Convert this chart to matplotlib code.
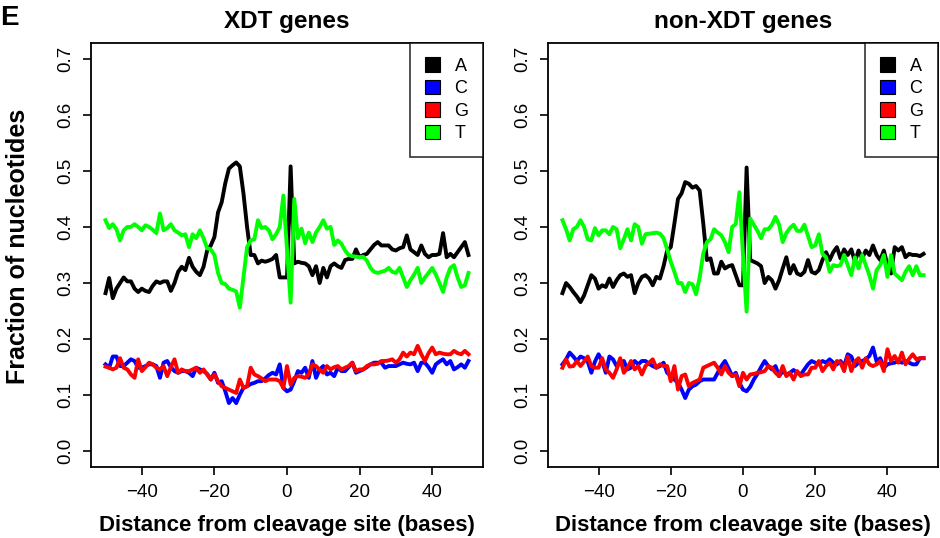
import numpy as np
import matplotlib
matplotlib.use("Agg")
import matplotlib.pyplot as plt
from matplotlib.patches import Patch

plt.rcParams['font.family'] = ['Liberation Sans', 'DejaVu Sans']

positions = np.arange(-50, 51)
nucleotides = ["A", "C", "G", "T"]
colors = ["#000000", "#0000ff", "#ff0000", "#00ff00"]
panel_titles = ["XDT genes", "non-XDT genes"]

# XDT genes
xdt_A = [0.282, 0.309, 0.273, 0.290, 0.300, 0.310, 0.303, 0.303, 0.290, 0.284,
         0.290, 0.286, 0.284, 0.295, 0.303, 0.300, 0.303, 0.303, 0.286, 0.300,
         0.320, 0.329, 0.323, 0.345, 0.329, 0.320, 0.314, 0.329, 0.358, 0.367,
         0.382, 0.426, 0.444, 0.478, 0.504, 0.510, 0.515, 0.508, 0.460, 0.400,
         0.350, 0.350, 0.335, 0.340, 0.338, 0.340, 0.343, 0.350, 0.310, 0.310,
         0.310, 0.508, 0.335, 0.338, 0.336, 0.335, 0.330, 0.314, 0.330, 0.300,
         0.327, 0.310, 0.330, 0.335, 0.330, 0.327, 0.341, 0.343, 0.343, 0.360,
         0.346, 0.350, 0.352, 0.360, 0.368, 0.373, 0.367, 0.367, 0.367, 0.360,
         0.358, 0.362, 0.364, 0.385, 0.360, 0.355, 0.350, 0.367, 0.352, 0.346,
         0.350, 0.350, 0.352, 0.389, 0.346, 0.352, 0.346, 0.355, 0.364, 0.373,
         0.350]
xdt_C = [0.155, 0.149, 0.169, 0.169, 0.152, 0.152, 0.158, 0.164, 0.161, 0.149,
         0.149, 0.152, 0.155, 0.155, 0.152, 0.131, 0.158, 0.161, 0.150, 0.143,
         0.140, 0.143, 0.143, 0.140, 0.134, 0.149, 0.146, 0.143, 0.138, 0.128,
         0.140, 0.122, 0.125, 0.107, 0.086, 0.095, 0.086, 0.101, 0.113, 0.116,
         0.120, 0.122, 0.125, 0.125, 0.130, 0.136, 0.140, 0.137, 0.155, 0.113,
         0.107, 0.110, 0.125, 0.143, 0.140, 0.149, 0.131, 0.161, 0.131, 0.146,
         0.152, 0.137, 0.140, 0.134, 0.149, 0.143, 0.143, 0.150, 0.158, 0.140,
         0.143, 0.146, 0.150, 0.155, 0.158, 0.158, 0.158, 0.149, 0.152, 0.152,
         0.152, 0.155, 0.158, 0.156, 0.155, 0.158, 0.143, 0.158, 0.158, 0.150,
         0.140, 0.155, 0.160, 0.164, 0.155, 0.161, 0.146, 0.150, 0.155, 0.149,
         0.161]
xdt_G = [0.151, 0.149, 0.146, 0.149, 0.166, 0.149, 0.146, 0.137, 0.131, 0.164,
         0.143, 0.150, 0.158, 0.155, 0.149, 0.146, 0.152, 0.134, 0.150, 0.164,
         0.140, 0.146, 0.143, 0.143, 0.146, 0.149, 0.140, 0.146, 0.137, 0.128,
         0.137, 0.125, 0.116, 0.113, 0.110, 0.107, 0.104, 0.128, 0.113, 0.116,
         0.149, 0.137, 0.134, 0.130, 0.125, 0.128, 0.128, 0.128, 0.125, 0.113,
         0.152, 0.119, 0.131, 0.134, 0.133, 0.131, 0.137, 0.155, 0.152, 0.145,
         0.140, 0.152, 0.146, 0.150, 0.152, 0.146, 0.149, 0.152, 0.158, 0.143,
         0.146, 0.146, 0.152, 0.155, 0.155, 0.156, 0.161, 0.161, 0.162, 0.164,
         0.158, 0.164, 0.176, 0.169, 0.176, 0.173, 0.188, 0.173, 0.161, 0.175,
         0.185, 0.173, 0.176, 0.174, 0.173, 0.173, 0.179, 0.175, 0.173, 0.179,
         0.173]
xdt_T = [0.412, 0.398, 0.405, 0.396, 0.376, 0.394, 0.400, 0.400, 0.405, 0.400,
         0.394, 0.403, 0.400, 0.395, 0.389, 0.424, 0.394, 0.398, 0.405, 0.394,
         0.390, 0.385, 0.387, 0.364, 0.387, 0.380, 0.394, 0.380, 0.362, 0.360,
         0.350, 0.318, 0.300, 0.298, 0.290, 0.288, 0.285, 0.256, 0.310, 0.364,
         0.376, 0.378, 0.412, 0.398, 0.400, 0.394, 0.378, 0.387, 0.400, 0.456,
         0.360, 0.265, 0.450, 0.380, 0.397, 0.371, 0.390, 0.373, 0.390, 0.400,
         0.412, 0.397, 0.400, 0.368, 0.376, 0.370, 0.358, 0.350, 0.348, 0.347,
         0.346, 0.347, 0.340, 0.327, 0.320, 0.318, 0.320, 0.322, 0.327, 0.320,
         0.318, 0.327, 0.310, 0.293, 0.305, 0.315, 0.327, 0.300, 0.310, 0.318,
         0.327, 0.315, 0.300, 0.284, 0.310, 0.327, 0.332, 0.310, 0.293, 0.296,
         0.318]

# non-XDT genes
non_A = [0.282, 0.300, 0.293, 0.284, 0.276, 0.266, 0.278, 0.296, 0.314, 0.308,
         0.290, 0.296, 0.293, 0.308, 0.293, 0.305, 0.314, 0.317, 0.311, 0.314,
         0.282, 0.300, 0.311, 0.314, 0.308, 0.296, 0.311, 0.308, 0.330, 0.358,
         0.364, 0.406, 0.450, 0.460, 0.480, 0.477, 0.470, 0.473, 0.465, 0.406,
         0.341, 0.344, 0.317, 0.317, 0.338, 0.326, 0.330, 0.332, 0.314, 0.296,
         0.296, 0.506, 0.341, 0.338, 0.335, 0.330, 0.300, 0.311, 0.305, 0.290,
         0.305, 0.326, 0.346, 0.317, 0.332, 0.317, 0.314, 0.320, 0.341, 0.320,
         0.317, 0.323, 0.341, 0.355, 0.341, 0.355, 0.364, 0.344, 0.360, 0.350,
         0.360, 0.338, 0.358, 0.344, 0.358, 0.350, 0.367, 0.350, 0.341, 0.358,
         0.332, 0.317, 0.364, 0.358, 0.364, 0.346, 0.352, 0.350, 0.350, 0.348,
         0.352]
non_C = [0.155, 0.164, 0.176, 0.169, 0.161, 0.169, 0.166, 0.160, 0.140, 0.160,
         0.173, 0.161, 0.140, 0.169, 0.164, 0.152, 0.158, 0.161, 0.146, 0.149,
         0.161, 0.155, 0.161, 0.161, 0.156, 0.152, 0.149, 0.152, 0.158, 0.140,
         0.135, 0.128, 0.122, 0.110, 0.095, 0.110, 0.116, 0.119, 0.125, 0.128,
         0.128, 0.128, 0.128, 0.140, 0.152, 0.161, 0.148, 0.134, 0.140, 0.122,
         0.110, 0.107, 0.115, 0.128, 0.138, 0.150, 0.161, 0.152, 0.146, 0.152,
         0.134, 0.143, 0.137, 0.140, 0.145, 0.140, 0.137, 0.146, 0.155, 0.161,
         0.158, 0.155, 0.161, 0.158, 0.164, 0.158, 0.155, 0.161, 0.152, 0.173,
         0.169, 0.152, 0.158, 0.161, 0.164, 0.170, 0.185, 0.160, 0.166, 0.149,
         0.155, 0.157, 0.158, 0.161, 0.158, 0.161, 0.158, 0.155, 0.155, 0.166,
         0.166]
non_G = [0.149, 0.164, 0.151, 0.152, 0.161, 0.152, 0.160, 0.169, 0.152, 0.149,
         0.149, 0.166, 0.146, 0.140, 0.131, 0.146, 0.166, 0.140, 0.149, 0.161,
         0.146, 0.152, 0.137, 0.152, 0.158, 0.164, 0.149, 0.155, 0.152, 0.152,
         0.125, 0.152, 0.110, 0.134, 0.137, 0.116, 0.122, 0.125, 0.128, 0.149,
         0.152, 0.155, 0.158, 0.149, 0.137, 0.152, 0.140, 0.134, 0.137, 0.116,
         0.140, 0.128, 0.137, 0.138, 0.140, 0.141, 0.143, 0.152, 0.149, 0.140,
         0.134, 0.152, 0.134, 0.140, 0.128, 0.143, 0.134, 0.137, 0.137, 0.149,
         0.149, 0.161, 0.143, 0.152, 0.158, 0.146, 0.161, 0.158, 0.143, 0.169,
         0.143, 0.160, 0.166, 0.149, 0.166, 0.155, 0.152, 0.155, 0.161, 0.143,
         0.182, 0.161, 0.170, 0.158, 0.176, 0.155, 0.165, 0.173, 0.164, 0.166,
         0.166]
non_T = [0.412, 0.396, 0.376, 0.396, 0.400, 0.412, 0.400, 0.378, 0.376, 0.398,
         0.385, 0.394, 0.394, 0.387, 0.400, 0.396, 0.362, 0.378, 0.396, 0.376,
         0.405, 0.400, 0.370, 0.387, 0.388, 0.389, 0.390, 0.388, 0.380, 0.360,
         0.338, 0.320, 0.300, 0.300, 0.284, 0.300, 0.298, 0.280, 0.310, 0.353,
         0.373, 0.378, 0.396, 0.390, 0.385, 0.373, 0.355, 0.400, 0.405, 0.462,
         0.350, 0.249, 0.415, 0.404, 0.393, 0.380, 0.396, 0.396, 0.404, 0.418,
         0.404, 0.373, 0.389, 0.398, 0.404, 0.393, 0.393, 0.404, 0.384, 0.364,
         0.367, 0.387, 0.352, 0.346, 0.320, 0.332, 0.330, 0.332, 0.350, 0.332,
         0.314, 0.346, 0.326, 0.350, 0.332, 0.314, 0.290, 0.323, 0.332, 0.350,
         0.311, 0.350, 0.317, 0.311, 0.305, 0.320, 0.330, 0.314, 0.330, 0.314,
         0.314]

panels = [[xdt_A, xdt_C, xdt_G, xdt_T], [non_A, non_C, non_G, non_T]]

fig = plt.figure(figsize=(9.4, 5.38), dpi=100)
ax_left = fig.add_axes([91 / 940, 71 / 538, 392 / 940, 424 / 538])
ax_right = fig.add_axes([548 / 940, 71 / 538, 390 / 940, 424 / 538])

for ax, series, title in zip([ax_left, ax_right], panels, panel_titles):
    for vals, col in zip(series, colors):
        ax.plot(positions, vals, color=col, linewidth=2.8, solid_joinstyle='round')
    ax.set_xlim(-54, 54)
    ax.set_ylim(-0.028, 0.728)
    ax.set_xticks([-40, -20, 0, 20, 40])
    ax.set_xticklabels(["\u221240", "\u221220", "0", "20", "40"])
    ax.set_yticks(np.arange(0, 0.71, 0.1))
    ax.set_yticklabels([f"{v:.1f}" for v in np.arange(0, 0.71, 0.1)],
                       rotation=90, va='center')
    ax.tick_params(direction='out', length=6, width=1.2, labelsize=13.5, pad=6)
    for sp in ax.spines.values():
        sp.set_linewidth(1.3)
    ax.set_title(title, fontsize=17.5, fontweight='bold', pad=11)
    ax.set_xlabel("Distance from cleavage site (bases)", fontsize=16,
                  fontweight='bold', labelpad=10)
    handles = [Patch(facecolor=c, edgecolor='black', linewidth=0.8) for c in colors]
    leg = ax.legend(handles, nucleotides, loc='upper right', borderaxespad=0,
                    fancybox=False, edgecolor='black', fontsize=13,
                    handlelength=0.85, handleheight=0.85, handletextpad=0.8,
                    labelspacing=0.28, borderpad=0.8)
    leg.get_frame().set_linewidth(1.2)

ax_left.set_ylabel("Fraction of nucleotides", fontsize=18, fontweight='bold')
ax_left.yaxis.set_label_coords(-0.155, 0.52)
fig.text(0.0, 0.99, "E", fontsize=20, fontweight='bold', va='top', ha='left')

fig.savefig("out.png", dpi=100)
